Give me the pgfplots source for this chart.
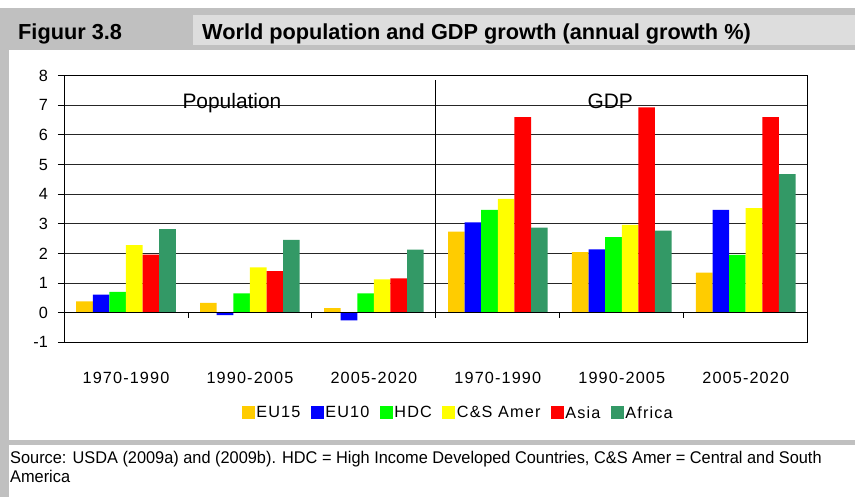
\documentclass[border=0pt]{standalone}
\usepackage{fontspec}
\setmainfont{Liberation Sans}
\newfontfamily\spacedfont{Liberation Sans}[LetterSpace=7]
\newfontfamily\srcfont{Liberation Sans}[FakeStretch=0.965]
\usepackage{pgfplots}
\pgfplotsset{compat=1.18}
\usepackage{pgfplotstable}

\definecolor{cEUa}{HTML}{FFCC00}
\definecolor{cEUb}{HTML}{0000FF}
\definecolor{cHDC}{HTML}{00FF00}
\definecolor{cCSA}{HTML}{FFFF00}
\definecolor{cAsia}{HTML}{FF0000}
\definecolor{cAfrica}{HTML}{339966}
\definecolor{frameGray}{HTML}{C0C0C0}
\definecolor{boxGray}{HTML}{DDDDDD}

% annual growth %, population (x=0.5..2.5) and GDP (x=3.5..5.5)
\pgfplotstableread{
x   EUa   EUb   HDC   CSA   Asia  Africa
0.5 0.38  0.61  0.70  2.28  1.96  2.82
1.5 0.33 -0.08  0.65  1.53  1.40  2.46
2.5 0.15 -0.26  0.65  1.12  1.16  2.13
3.5 2.74  3.05  3.47  3.84  6.60  2.87
4.5 2.04  2.14  2.55  2.96  6.93  2.77
5.5 1.35  3.47  1.95  3.53  6.60  4.68
}\growth

\begin{document}
\begin{tikzpicture}[x=1bp,y=1bp]
% frame of the figure
\fill[white] (0,0) rectangle (855,497);
\fill[frameGray] (0,447) rectangle (855,489);
\fill[boxGray] (193,452) rectangle (855,482);
\fill[frameGray] (0,0) rectangle (9,447);
\fill[frameGray] (0,52) rectangle (855,57);
\node[anchor=base west, inner sep=0, font=\bfseries\fontsize{21.8}{26}\selectfont] at (18,457) {Figuur 3.8};
\node[anchor=base west, inner sep=0, font=\bfseries\fontsize{21.8}{26}\selectfont] at (202,457) {World population and GDP growth (annual growth \%)};
\node[anchor=base west, inner sep=0, font=\srcfont\fontsize{17}{20}\selectfont] at (10,33) {Source: USDA (2009a) and (2009b). HDC = High Income Developed Countries, C\&S Amer = Central and South};
\node[anchor=base west, inner sep=0, font=\srcfont\fontsize{17}{20}\selectfont] at (10,14) {America};

\begin{axis}[
    at={(64bp,154.7bp)}, anchor=south west,
    scale only axis, width=743.7bp, height=266.6bp,
    xmin=0, xmax=6, ymin=-1, ymax=8,
    ybar=0pt, bar width=16.6bp,
    axis line style={black, line width=1bp},
    ytick={-1,0,...,8},
    yticklabels={-1,0,1,2,3,4,5,6,7,8},
    ytick pos=left,
    ymajorgrids, grid style={black!85, line width=0.9bp},
    xtick={0.5,1.5,2.5,3.5,4.5,5.5},
    xticklabels={1970-1990,1990-2005,2005-2020,1970-1990,1990-2005,2005-2020},
    x tick style={draw=none},
    y tick style={black, line width=0.9bp},
    tick align=outside, major tick length=6bp,
    xticklabel style={anchor=center, yshift=-30bp, font=\spacedfont\fontsize{16.3}{19}\selectfont},
    yticklabel style={anchor=east, inner sep=0pt, xshift=-10bp, font=\fontsize{16.3}{19}\selectfont},
    legend image code/.code={\fill[#1] (0bp,-6.5bp) rectangle (13bp,6.5bp);},
    legend style={at={(0.5298,-0.265)}, anchor=center, draw=none, fill=none,
        legend columns=6, inner sep=0pt,
        font=\spacedfont\fontsize{16.3}{19}\selectfont,
        nodes={inner xsep=1.5bp, inner ysep=0pt},
        /tikz/every even column/.append style={column sep=9bp}},
]
\addplot[fill=cEUa, draw=none] table[x=x, y=EUa] {\growth};
\addplot[fill=cEUb, draw=none] table[x=x, y=EUb] {\growth};
\addplot[fill=cHDC, draw=none] table[x=x, y=HDC] {\growth};
\addplot[fill=cCSA, draw=none] table[x=x, y=CSA] {\growth};
\addplot[fill=cAsia, draw=none] table[x=x, y=Asia] {\growth};
\addplot[fill=cAfrica, draw=none] table[x=x, y=Africa] {\growth};
\legend{EU15,EU10,HDC,C\&S Amer,Asia,Africa}
\draw[black, line width=1bp] (axis cs:0,0) -- (axis cs:6,0);
\draw[black, line width=1.2bp] (axis cs:3,0) -- (axis cs:3,7.85);
\pgfplotsinvokeforeach{1,...,5}{\draw[black, line width=0.9bp] (axis cs:#1,0) -- ++(0pt,-5bp);}
\node[anchor=base, inner sep=0, font=\fontsize{21}{25}\selectfont] at (axis cs:1.355,6.90) {Population};
\node[anchor=base, inner sep=0, font=\fontsize{21}{25}\selectfont] at (axis cs:4.407,6.90) {GDP};
\end{axis}
\end{tikzpicture}
\end{document}
